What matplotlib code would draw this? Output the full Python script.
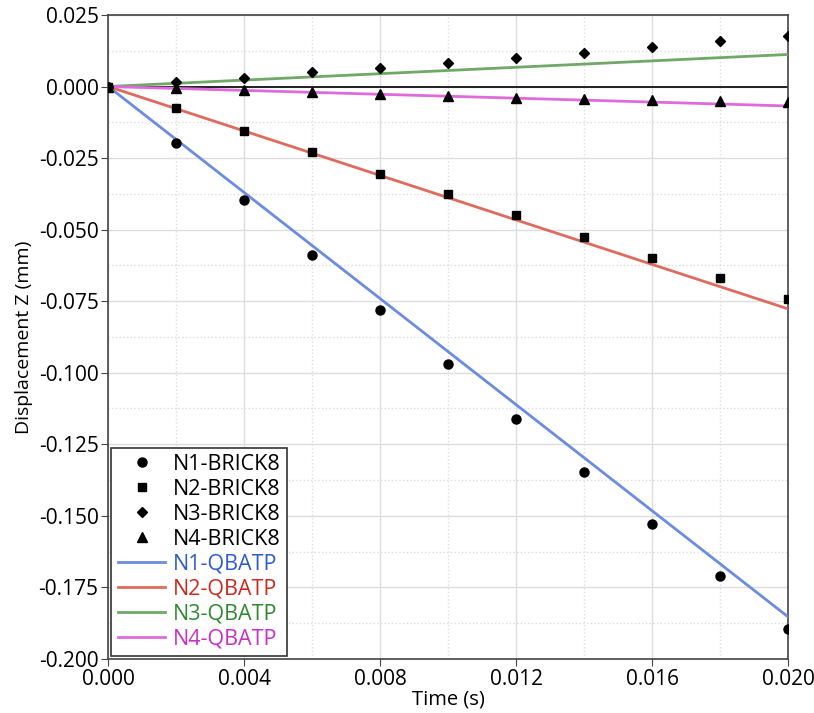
import numpy as np
import matplotlib.pyplot as plt
from matplotlib.ticker import MultipleLocator

plt.rcParams['font.family'] = ['Open Sans', 'DejaVu Sans']

# Time of the BRICK8 samples (s)
t = [0.0, 0.002, 0.004, 0.006, 0.008, 0.010, 0.012, 0.014, 0.016, 0.018, 0.020]

# BRICK8 displacements (mm)
n1_brick = [0.0, -0.0197, -0.0397, -0.0589, -0.0781, -0.0970, -0.1162, -0.1347, -0.1529, -0.1710, -0.1895]
n2_brick = [0.0, -0.0075, -0.0155, -0.0230, -0.0306, -0.0376, -0.0449, -0.0526, -0.0598, -0.0669, -0.0743]
n3_brick = [0.0, 0.0016, 0.0031, 0.0050, 0.0063, 0.0081, 0.0098, 0.0117, 0.0137, 0.0159, 0.0178]
n4_brick = [0.0, -0.0006, -0.0013, -0.0020, -0.0027, -0.0033, -0.0039, -0.0043, -0.0047, -0.0050, -0.0053]

# QBATP results (straight lines)
t_q = [0.0, 0.020]
n1_q = [0.0, -0.1853]
n2_q = [0.0, -0.0777]
n3_q = [0.0, 0.0112]
n4_q = [0.0, -0.0068]

fig, ax = plt.subplots(figsize=(8.14, 7.13), dpi=100)
fig.subplots_adjust(left=0.133, right=0.968, top=0.979, bottom=0.076)

ax.axhline(0, color='black', lw=1.2, zorder=1)

ax.plot(t, n1_brick, 'o', color='black', ms=6.5, label='N1-BRICK8', zorder=4)
ax.plot(t, n2_brick, 's', color='black', ms=6, label='N2-BRICK8', zorder=4)
ax.plot(t, n3_brick, 'D', color='black', ms=5.5, label='N3-BRICK8', zorder=4)
ax.plot(t, n4_brick, '^', color='black', ms=6.5, label='N4-BRICK8', zorder=4)

ax.plot(t_q, n1_q, color='#6b8ce0', lw=2, label='N1-QBATP', zorder=3)
ax.plot(t_q, n2_q, color='#e06a5c', lw=2, label='N2-QBATP', zorder=3)
ax.plot(t_q, n3_q, color='#6fa867', lw=2, label='N3-QBATP', zorder=3)
ax.plot(t_q, n4_q, color='#de6ade', lw=2, label='N4-QBATP', zorder=3)

ax.set_xlim(0, 0.020)
ax.set_ylim(-0.200, 0.025)
ax.xaxis.set_major_locator(MultipleLocator(0.004))
ax.xaxis.set_minor_locator(MultipleLocator(0.002))
ax.yaxis.set_major_locator(MultipleLocator(0.025))
ax.yaxis.set_minor_locator(MultipleLocator(0.0125))
ax.xaxis.set_major_formatter(plt.FormatStrFormatter('%.3f'))
ax.yaxis.set_major_formatter(plt.FormatStrFormatter('%.3f'))

ax.grid(which='major', color='#dddddd', lw=1)
ax.grid(which='minor', color='#dddddd', lw=1, ls=':')
ax.set_axisbelow(True)

ax.tick_params(which='major', labelsize=15, length=5, color='#444444', pad=2)
ax.tick_params(which='minor', length=0)
for s in ax.spines.values():
    s.set_color('#444444')
    s.set_linewidth(1.2)

ax.set_xlabel('Time (s)', fontsize=14.5, labelpad=0)
ax.set_ylabel('Displacement Z (mm)', fontsize=14, labelpad=4)

leg = ax.legend(loc='lower left', fontsize=15.5, fancybox=False, framealpha=1,
                edgecolor='#333333', borderpad=0.3, labelspacing=0.18,
                handlelength=2.2, handletextpad=0.35, borderaxespad=0.15)
leg.get_frame().set_linewidth(1.2)
text_colors = ['black', 'black', 'black', 'black', '#2f5bd0', '#cc2a1e', '#2f8a2f', '#c82fc8']
for txt, c in zip(leg.get_texts(), text_colors):
    txt.set_color(c)

plt.savefig('out.png')
